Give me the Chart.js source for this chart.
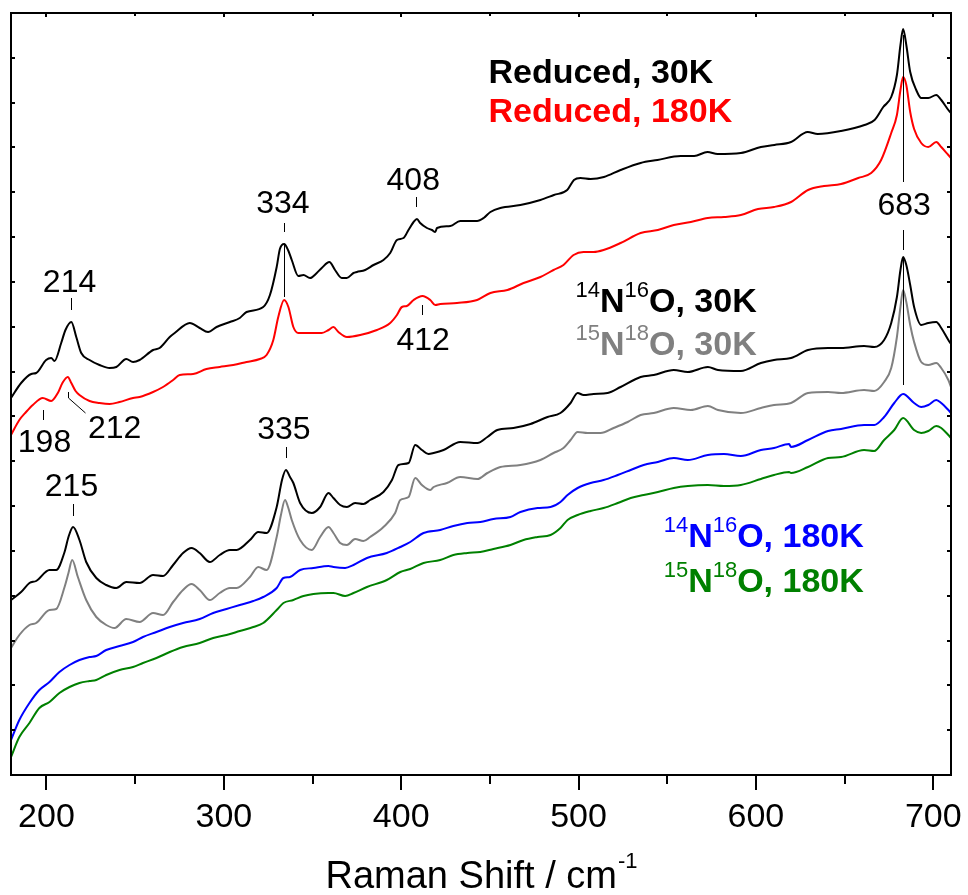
<!DOCTYPE html>
<html>
<head>
<meta charset="utf-8">
<script src="https://cdn.jsdelivr.net/npm/chart.js@4.4.1/dist/chart.umd.min.js"></script>
<style>
  html, body { margin: 0; padding: 0; background: #fff; }
</style>
</head>
<body>
<canvas id="raman" width="968" height="895"></canvas>
<script>
// Raman spectra, [wavenumber cm-1, intensity (arb. units, offset)]
const reduced30K = [[180,37.7],[185.7,39.2],[191.4,40.1],[194.2,40.2],[199.8,41.5],[202.7,41.7],[204.5,41.4],[208.3,43.2],[210.7,44.5],[214,45.3],[216.8,43.8],[219.6,42.2],[224.3,41.5],[229.9,41.0],[235.6,40.7],[239.4,40.8],[245,41.6],[248.8,41.3],[252.5,41.5],[260.1,42.5],[263.8,42.7],[269.5,43.8],[272.3,44.2],[280.8,45.2],[286.4,44.7],[291.1,44.3],[295.9,44.8],[303.4,45.3],[309,45.7],[312.8,46.3],[322.2,46.8],[326,48.0],[329.8,50.8],[331.6,52.6],[334,53.1],[336.2,52.5],[338.3,51.5],[342,49.9],[344.9,50.0],[348.6,49.7],[352.4,50.2],[355.2,50.7],[359.5,51.3],[362.7,50.5],[366.5,49.7],[369.3,49.7],[373.1,50.2],[375,50.3],[379.7,50.5],[384.4,51.0],[390,51.5],[393.8,52.2],[397.6,53.5],[401.3,53.7],[404.1,54.5],[407,55.3],[408.9,55.6],[410.7,55.2],[414.5,54.7],[417.4,54.5],[419.2,54.3],[420.2,54.7],[427.7,54.9],[433.3,55.4],[442.8,55.4],[446.5,55.7],[450.3,56.3],[455.9,56.7],[467.2,57.0],[478.5,57.5],[486.1,58.0],[493.6,58.5],[497.4,59.5],[501.1,59.7],[506.8,59.6],[514.3,59.8],[523.7,60.5],[535,61.2],[544.5,61.5],[557.6,61.9],[565.2,61.9],[572.7,62.3],[578.4,62.1],[591.5,62.2],[602.8,62.8],[610.4,63.0],[619.8,63.3],[629.2,64.3],[634.9,64.1],[648,64.4],[661.2,65.0],[666.9,65.5],[671.8,66.8],[676.3,67.8],[679.5,70.0],[681.5,73.0],[683,74.6],[684.8,73.0],[687,70.3],[690.4,68.5],[693.2,67.7],[697.2,67.7],[701.7,68.0],[704.5,67.5],[708.5,66.5],[710,66.2]];

const reduced180K = [[180,34.0],[184.7,35.5],[188.5,36.3],[192.3,37.0],[197.9,37.7],[202.7,37.4],[206.4,38.2],[209,39.2],[212,39.8],[214,39.2],[216.4,38.4],[218.6,38.0],[224.3,37.4],[229.9,37.2],[235.6,37.1],[241.2,37.3],[248.8,37.7],[252.5,37.8],[260.1,38.3],[265.7,38.8],[271.4,39.5],[275.1,40.0],[282.7,40.1],[290.2,40.6],[297.7,40.8],[305.3,41.0],[312.8,41.3],[320.3,41.6],[324.1,42.0],[327.9,43.5],[330.7,45.8],[334,47.5],[336.4,46.8],[339.2,44.8],[342,44.2],[348.6,44.2],[355.2,44.2],[359,44.5],[361.8,44.8],[364.6,44.3],[369.4,43.8],[376.9,44.0],[386.3,44.5],[393.8,45.2],[397.6,46.0],[400.4,46.8],[403.2,46.9],[407,47.5],[412,47.9],[416.4,47.5],[419.2,47.0],[422,47.1],[431.5,47.2],[442.8,47.5],[450.3,48.2],[459.9,48.5],[469,49.2],[478.5,49.8],[485.9,50.5],[491.5,51.0],[497.2,52.0],[502.8,52.3],[508.5,52.3],[514.1,52.5],[523.7,53.2],[535,54.2],[544.7,54.5],[553.7,55.0],[563.3,55.3],[572.9,55.7],[582,55.8],[591.5,56.0],[601.2,56.6],[610.2,56.8],[619.8,57.3],[629.4,58.5],[638.4,58.9],[648,59.1],[657.7,59.7],[665,60.2],[670.6,61.5],[676.3,64.2],[679.5,66.0],[681.5,68.5],[683,69.8],[684.8,69.0],[687,66.3],[689.2,64.6],[693.2,63.2],[697.2,62.8],[701.7,63.3],[704.5,62.8],[708.5,62.0],[710,61.7]];

const n14o16_30K = [[180,17.5],[185.7,18.3],[190.4,19.2],[194.2,19.4],[201.7,20.5],[205.5,20.5],[210.2,22.3],[212.4,23.8],[215,24.8],[218.6,23.5],[222.4,21.3],[228.1,19.7],[233.7,19.0],[239.4,18.7],[245,19.3],[252.5,19.2],[260.1,20.0],[265.7,19.9],[271.4,21.0],[277,22.2],[281.8,22.7],[286.4,22.2],[292.1,21.3],[297.7,22.0],[303.4,22.5],[307.2,22.5],[314.7,23.5],[319.4,24.3],[324.1,24.2],[329.8,26.8],[332.8,29.5],[335,30.5],[337.3,29.8],[339.2,29.2],[343,27.2],[349.6,26.2],[354.3,26.8],[359,28.2],[361.8,27.7],[365.6,27.0],[369.4,26.8],[374,27.2],[378.7,27.1],[382.5,27.5],[390,28.3],[394.8,29.5],[398.5,31.0],[404.2,31.2],[407.9,33.0],[411.7,32.5],[415.4,32.1],[418.3,32.2],[423.9,32.5],[433.3,33.3],[443,33.2],[448.6,33.8],[454.2,34.5],[463.3,34.7],[472.9,35.1],[482.5,35.8],[489.8,36.2],[495.5,37.2],[499.5,38.2],[502.8,38.0],[508.5,38.1],[516.4,38.2],[523.7,38.8],[535,39.8],[542.4,40.0],[553.7,40.5],[561.6,40.3],[572.9,40.8],[578.6,40.5],[591.5,40.4],[602.8,41.2],[610.2,41.5],[619.8,41.7],[629.4,42.5],[640.7,42.7],[648,42.7],[661,42.9],[666.7,42.8],[672.3,43.5],[676.3,45.2],[679.5,47.8],[681.5,50.5],[683,51.8],[684.8,51.0],[687,49.0],[689.2,46.8],[693.2,45.0],[697.2,45.2],[701.7,45.3],[704.5,44.7],[708.5,43.5],[710,43.1]];

const n15o18_30K = [[180,12.7],[184.7,14.0],[190.4,15.0],[194.2,15.2],[201.7,16.5],[205.5,16.6],[210.2,18.8],[212.4,20.2],[214.5,21.5],[217.7,19.8],[222.4,17.5],[228.1,15.8],[233.7,15.0],[238.4,14.7],[245,15.6],[252.5,15.3],[260.1,16.2],[265.7,16.0],[271.4,17.3],[277,18.5],[281.8,19.1],[286.4,18.5],[292.1,17.5],[297.7,18.2],[303.4,18.7],[307.2,18.7],[314.7,19.8],[319.4,20.8],[324.1,20.5],[329.8,23.8],[332.2,26.0],[334.5,27.5],[336.2,26.8],[338.3,25.5],[343,23.5],[349.6,22.5],[354.3,23.8],[359,24.8],[361.8,24.2],[365.6,23.2],[369.4,23.0],[374,23.6],[378.7,23.4],[382.5,23.8],[390,24.8],[396.6,26.2],[399.5,27.5],[404.2,27.8],[407.9,29.7],[411.7,29.0],[416.4,28.5],[418.3,28.8],[425.8,29.2],[433.3,29.8],[443,29.6],[448.6,30.2],[455.9,30.8],[467.2,31.0],[478.5,31.5],[485.9,32.2],[491.5,32.7],[495.5,33.5],[499.5,34.3],[505.1,34.2],[512.4,34.2],[519.8,34.7],[527.7,35.3],[535,36.0],[542.4,36.2],[553.7,36.7],[563.3,36.5],[572.9,36.9],[578.6,36.5],[591.5,36.2],[602.8,36.7],[610.2,37.0],[619.8,37.2],[629.4,38.2],[640.7,38.3],[648,38.2],[661,38.5],[666.7,38.4],[672.3,39.3],[676.3,40.7],[679.5,43.8],[681.5,46.8],[683,48.5],[684.8,47.3],[687,45.0],[689.2,43.3],[693.2,41.3],[697.2,41.0],[701.7,41.2],[704.5,40.7],[708.5,39.5],[710,38.8]];

const n14o16_180K = [[180,3.5],[184.7,5.5],[190.4,7.2],[196,8.5],[201.7,9.3],[207.3,10.3],[213,11.0],[218.6,11.5],[224.3,11.8],[228.1,11.9],[233.7,12.5],[241.2,12.9],[248.8,13.3],[254.4,13.8],[262,14.3],[269.5,14.8],[277,15.2],[286.4,15.6],[294,16.2],[301.5,16.6],[309,17.0],[316.6,17.4],[322.2,17.8],[329.8,18.7],[333.6,19.7],[337.3,19.8],[343,20.5],[350.5,20.7],[359,20.9],[361.8,20.8],[368.4,20.7],[373.1,21.0],[380.7,21.7],[391.9,22.2],[399.5,22.8],[405.1,23.3],[412.6,24.2],[422,24.5],[429.4,24.9],[437.3,25.2],[444.6,25.3],[452,25.6],[461.6,25.8],[467.2,26.3],[476.9,26.7],[484.2,26.8],[489.8,27.3],[493.8,28.0],[499.5,28.7],[506.8,29.2],[514.1,29.5],[522.1,30.0],[529.4,30.5],[536.7,31.0],[544.7,31.3],[553.7,31.7],[561.6,31.5],[572.9,32.0],[582,32.1],[591.5,31.9],[602.8,32.5],[610.2,32.7],[618.7,33.1],[619.8,32.8],[629.4,33.5],[640.7,34.4],[648,34.6],[661,35.0],[666.7,35.0],[672.3,35.8],[678,37.2],[683,38.1],[689.2,37.2],[693.2,36.8],[697.2,37.0],[701.7,37.5],[704.5,37.2],[708.5,36.5],[710,36.2]];

const n15o18_180K = [[180,1.8],[184.7,3.8],[190.4,5.2],[196,6.7],[201.7,7.3],[207.3,8.2],[213,8.8],[218.6,9.2],[224.3,9.4],[228.1,9.5],[233.7,10.0],[241.2,10.5],[248.8,10.8],[254.4,11.2],[262,11.7],[269.5,12.3],[277,12.8],[286.4,13.2],[294,13.7],[301.5,14.0],[309,14.4],[316.6,14.8],[322.2,15.2],[329.8,16.5],[333.6,17.2],[339.2,17.5],[344.9,17.9],[350.5,18.1],[359,18.2],[361.8,18.2],[368.4,17.9],[373.1,18.2],[380.7,18.8],[391.9,19.5],[399.5,20.3],[405.1,20.6],[412.6,21.2],[422,21.5],[429.4,22.0],[437.3,22.2],[444.6,22.3],[452,22.6],[461.6,23.0],[469,23.5],[476.9,23.8],[484.2,24.0],[489.8,24.7],[493.8,25.5],[499.5,26.0],[506.8,26.4],[514.1,26.7],[522.1,27.2],[529.4,27.7],[536.7,28.0],[544.7,28.3],[553.7,28.7],[561.6,28.9],[572.9,29.0],[582,28.9],[591.5,29.0],[602.8,29.6],[610.2,30.0],[618.7,30.3],[619.8,30.2],[629.4,30.8],[640.7,31.7],[648,31.8],[661,32.5],[666.7,32.4],[672.3,33.5],[678,34.5],[683,35.7],[689.2,34.5],[693.2,34.2],[697.2,34.4],[701.7,34.9],[704.5,34.7],[708.5,34.0],[710,33.7]];

const xTicks = [200, 300, 400, 500, 600, 700];
const xMinorTicks = [250, 350, 450, 550, 650];

// peak labels: text, position (wavenumber, intensity) and marker lines
const peakLabels = [
  { text: '214', x: 213, y: 48.3, lines: [[[214, 47.7], [214, 46.5]]] },
  { text: '198', x: 198.9, y: 32.3, lines: [[[198, 36.5], [198, 35.5]]] },
  { text: '212', x: 238.4, y: 33.7, lines: [[[211.9, 38.3], [211.9, 37.7], [222, 36.2]]] },
  { text: '334', x: 333.3, y: 56.2, lines: [[[334, 55.2], [334, 54.3]], [[334, 53.1], [334, 47.8]]] },
  { text: '408', x: 406.8, y: 58.5, lines: [[[408.5, 57.8], [408.5, 56.8]]] },
  { text: '412', x: 412.4, y: 42.5, lines: [[[412, 47.0], [412, 46.0]]] },
  { text: '335', x: 333.9, y: 33.6, lines: [[[335, 32.8], [335, 31.7]]] },
  { text: '215', x: 214.1, y: 27.9, lines: [[[215, 27.1], [215, 25.9]]] },
  { text: '683', x: 683.6, y: 56.0, lines: [[[683, 74.0], [683, 59.3]], [[683, 54.5], [683, 52.5]], [[683, 51.8], [683, 39.0]]] }
];

// series legends written next to the curves
const seriesLabels = [
  { x: 449.2, y: 69.2, color: '#000000', parts: [['Reduced, 30K']] },
  { x: 449.2, y: 65.3, color: '#ff0000', parts: [['Reduced, 180K']] },
  { x: 498.3, y: 46.3, color: '#000000', parts: [['14', 1], ['N'], ['16', 1], ['O, 30K']] },
  { x: 498.3, y: 42.0, color: '#808080', parts: [['15', 1], ['N'], ['18', 1], ['O, 30K']] },
  { x: 548.0, y: 22.8, color: '#0000ff', parts: [['14', 1], ['N'], ['16', 1], ['O, 180K']] },
  { x: 548.0, y: 18.3, color: '#008000', parts: [['15', 1], ['N'], ['18', 1], ['O, 180K']] }
];

const FONT = '"Liberation Sans", Arial, Helvetica, sans-serif';

const series = [
  { label: 'Reduced, 30K', data: reduced30K, color: '#000000' },
  { label: 'Reduced, 180K', data: reduced180K, color: '#ff0000' },
  { label: '14N16O, 30K', data: n14o16_30K, color: '#000000' },
  { label: '15N18O, 30K', data: n15o18_30K, color: '#808080' },
  { label: '14N16O, 180K', data: n14o16_180K, color: '#0000ff' },
  { label: '15N18O, 180K', data: n15o18_180K, color: '#008000' }
];

const overlay = {
  id: 'overlay',
  afterDatasetsDraw(chart) {
    const { ctx, chartArea: a, scales: { x, y } } = chart;
    ctx.save();
    ctx.strokeStyle = '#000';
    ctx.fillStyle = '#000';

    // frame
    ctx.lineWidth = 2;
    ctx.strokeRect(a.left, a.top, a.right - a.left, a.bottom - a.top);

    // x ticks: outward at bottom, small inward at top
    ctx.beginPath();
    xTicks.forEach(v => {
      const px = Math.round(x.getPixelForValue(v));
      ctx.moveTo(px, a.bottom); ctx.lineTo(px, a.bottom + 15);
      ctx.moveTo(px, a.top); ctx.lineTo(px, a.top + 4);
    });
    xMinorTicks.forEach(v => {
      const px = Math.round(x.getPixelForValue(v));
      ctx.moveTo(px, a.bottom); ctx.lineTo(px, a.bottom + 9);
      ctx.moveTo(px, a.top); ctx.lineTo(px, a.top + 3);
    });
    // y ticks: small inward marks on both sides
    const yStep = (y.max - y.min) / 17;
    for (let i = 1; i < 17; i++) {
      const py = Math.round(y.getPixelForValue(y.min + i * yStep));
      ctx.moveTo(a.left, py); ctx.lineTo(a.left + 4, py);
      ctx.moveTo(a.right, py); ctx.lineTo(a.right - 4, py);
    }
    ctx.stroke();

    // peak markers
    ctx.lineWidth = 1;
    peakLabels.forEach(p => {
      p.lines.forEach(line => {
        ctx.beginPath();
        line.forEach(([wx, wy], i) => {
          const px = Math.round(x.getPixelForValue(wx)) + 0.5;
          const py = y.getPixelForValue(wy);
          if (i === 0) ctx.moveTo(px, py); else ctx.lineTo(px, py);
        });
        ctx.stroke();
      });
    });
    ctx.font = '32px ' + FONT;
    ctx.textAlign = 'center';
    ctx.textBaseline = 'alphabetic';
    peakLabels.forEach(p => {
      ctx.fillText(p.text, x.getPixelForValue(p.x), y.getPixelForValue(p.y));
    });

    // series labels with isotope superscripts
    ctx.textAlign = 'left';
    seriesLabels.forEach(s => {
      let px = x.getPixelForValue(s.x);
      const py = y.getPixelForValue(s.y);
      ctx.fillStyle = s.color;
      s.parts.forEach(([t, sup]) => {
        ctx.font = sup ? '22px ' + FONT : 'bold 34px ' + FONT;
        ctx.fillText(t, px, sup ? py - 15 : py);
        px += ctx.measureText(t).width;
      });
    });

    // axis title
    ctx.fillStyle = '#000';
    const main = 'Raman Shift / cm';
    ctx.font = '22px ' + FONT;
    const supW = ctx.measureText('-1').width;
    ctx.font = '38px ' + FONT;
    const mainW = ctx.measureText(main).width;
    const cx = (a.left + a.right) / 2;
    const tx = cx - (mainW + supW) / 2;
    const ty = a.bottom + 113;
    ctx.fillText(main, tx, ty);
    ctx.font = '22px ' + FONT;
    ctx.fillText('-1', tx + mainW + 1, ty - 20);
    ctx.restore();
  }
};

new Chart(document.getElementById('raman'), {
  type: 'line',
  data: {
    datasets: series.map(s => ({
      label: s.label,
      data: s.data.map(([wx, wy]) => ({ x: wx, y: wy })),
      borderColor: s.color,
      backgroundColor: s.color,
      borderWidth: 2,
      pointRadius: 0,
      fill: false,
      cubicInterpolationMode: 'monotone'
    }))
  },
  options: {
    responsive: false,
    animation: false,
    layout: { padding: { left: 11, right: 17, top: 13, bottom: 0 } },
    plugins: { legend: { display: false }, tooltip: { enabled: false } },
    scales: {
      x: {
        type: 'linear',
        min: 180,
        max: 710,
        afterBuildTicks: s => { s.ticks = xTicks.map(v => ({ value: v })); },
        afterFit: s => { s.height = 120; s.paddingLeft = 0; s.paddingRight = 0; },
        grid: { display: false, drawTicks: false },
        border: { display: false },
        ticks: {
          color: '#000',
          font: { family: FONT, size: 34 },
          padding: 22,
          maxRotation: 0,
          autoSkip: false
        }
      },
      y: { type: 'linear', min: 0, max: 76.2, display: false }
    }
  },
  plugins: [overlay]
});
</script>
</body>
</html>
